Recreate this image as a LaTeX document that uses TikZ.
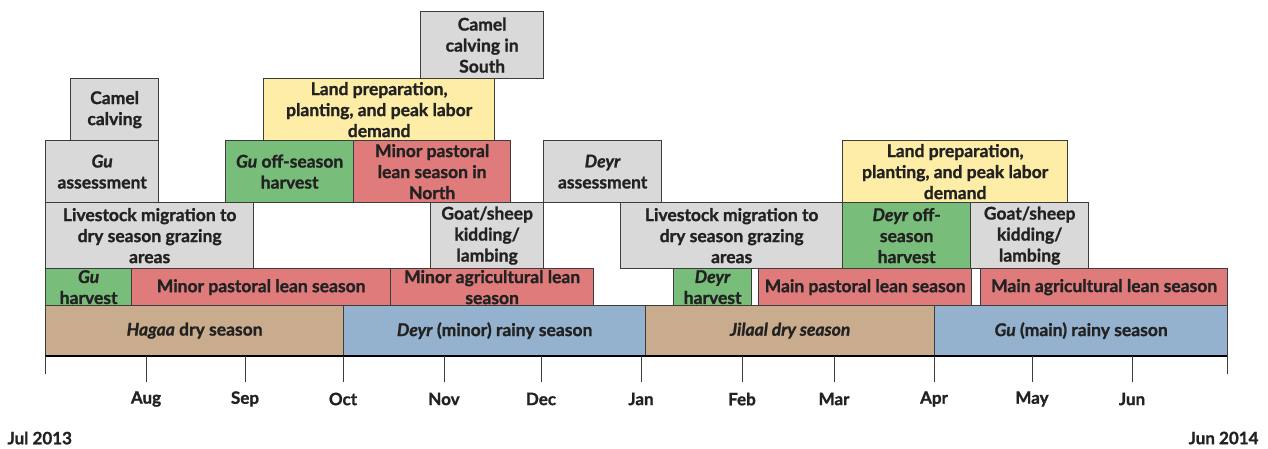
\documentclass[tikz,border=0pt]{standalone}
\usepackage{fontspec}
\setmainfont{Lato}[BoldFeatures={FakeBold=1.2}, BoldItalicFeatures={FakeBold=1.2}]

\definecolor{edgegray}{HTML}{3C3C3C}
\definecolor{textdark}{HTML}{222222}
\definecolor{tanfill}{HTML}{C9AC8E}
\definecolor{bluefill}{HTML}{94B2CE}
\definecolor{greenfill}{HTML}{79BD7B}
\definecolor{redfill}{HTML}{DF7B7B}
\definecolor{grayfill}{HTML}{D9D9D9}
\definecolor{yellowfill}{HTML}{FDEDA6}

\begin{document}
\begin{tikzpicture}[x=1pt, y=-1pt,
    bar/.style={draw=edgegray, line width=1.3pt, anchor=north west, inner sep=0pt,
        align=center, text=textdark, font=\bfseries\fontsize{17.5}{21}\selectfont},
    month/.style={text=textdark, font=\bfseries\fontsize{17}{20}\selectfont}]

    \useasboundingbox (0, 0) rectangle (1268, 448);

    \node[bar, fill=tanfill, minimum width=298, minimum height=50] (hagaa) at (45, 305) {\textit{Hagaa} dry season};
    \node[bar, fill=bluefill, minimum width=302, minimum height=50] (deyrrain) at (343, 305) {\textit{Deyr} (minor) rainy season};
    \node[bar, fill=tanfill, minimum width=289, minimum height=50] (jilaal) at (645, 305) {\textit{Jilaal dry season}};
    \node[bar, fill=bluefill, minimum width=293, minimum height=50] (gurain) at (934, 305) {\textit{Gu} (main) rainy season};

    \node[bar, fill=greenfill, minimum width=86, minimum height=37] (guharvest) at (45, 268) {\textit{Gu}\\harvest};
    \node[bar, fill=redfill, minimum width=259, minimum height=37] (minorpast) at (131, 268) {Minor pastoral lean season};
    \node[bar, fill=redfill, minimum width=203, minimum height=37] (minoragri) at (390, 268) {Minor agricultural lean\\season};
    \node[bar, fill=greenfill, minimum width=78, minimum height=37] (deyrharvest) at (673, 268) {\textit{Deyr}\\harvest};
    \node[bar, fill=redfill, minimum width=213, minimum height=37] (mainpast) at (758, 268) {Main pastoral lean season};
    \node[bar, fill=redfill, minimum width=247, minimum height=37] (mainagri) at (980, 268) {Main agricultural lean season};

    \node[bar, fill=grayfill, minimum width=208, minimum height=66] (migrleft) at (45, 202) {Livestock migration to\\dry season grazing\\areas};
    \node[bar, fill=grayfill, minimum width=113, minimum height=66] (kidleft) at (430, 202) {Goat/sheep\\kidding/\\lambing};
    \node[bar, fill=grayfill, minimum width=222, minimum height=66] (migrright) at (620, 202) {Livestock migration to\\dry season grazing\\areas};
    \node[bar, fill=greenfill, minimum width=128, minimum height=66] (deyroff) at (842, 202) {\textit{Deyr} off-\\season\\harvest};
    \node[bar, fill=grayfill, minimum width=118, minimum height=66] (kidright) at (970, 202) {Goat/sheep\\kidding/\\lambing};

    \node[bar, fill=grayfill, minimum width=113, minimum height=62] (guassess) at (45, 140) {\textit{Gu}\\assessment};
    \node[bar, fill=greenfill, minimum width=128, minimum height=62] (guoff) at (225, 140) {\textit{Gu} off-season\\harvest};
    \node[bar, fill=redfill, minimum width=157, minimum height=62] (pastnorth) at (353, 140) {Minor pastoral\\lean season in\\North};
    \node[bar, fill=grayfill, minimum width=118, minimum height=62] (deyrassess) at (543, 140) {\textit{Deyr}\\assessment};
    \node[bar, fill=yellowfill, minimum width=225, minimum height=62] (landright) at (842, 140) {Land preparation,\\planting, and peak labor\\demand};

    \node[bar, fill=grayfill, minimum width=88, minimum height=62] (camel) at (70, 78) {Camel\\calving};
    \node[bar, fill=yellowfill, minimum width=231, minimum height=62] (landleft) at (263, 78) {Land preparation,\\planting, and peak labor\\demand};
    \node[bar, fill=grayfill, minimum width=123, minimum height=67] (camelsouth) at (420, 11) {Camel\\calving in\\South};

    \draw[line width=2pt, black] (45, 356) -- (1227, 356);
    \draw[line width=1pt, edgegray] (45, 356) -- (45, 374);
    \draw[line width=1pt, edgegray] (1227, 356) -- (1227, 374);
    \foreach \x/\m in {146/Aug, 245/Sep, 343/Oct, 444/Nov, 541/Dec, 641/Jan, 742/Feb, 834/Mar, 934/Apr, 1032/May, 1132/Jun} {
        \draw[line width=1pt, edgegray] (\x, 356) -- (\x, 382);
        \node[month] (lbl\m) at (\x, 399) {\m};
    }
    \node[month, anchor=west] (start) at (4, 438) {Jul 2013};
    \node[month, anchor=east] (end) at (1262, 438) {Jun 2014};

\end{tikzpicture}
\end{document}
